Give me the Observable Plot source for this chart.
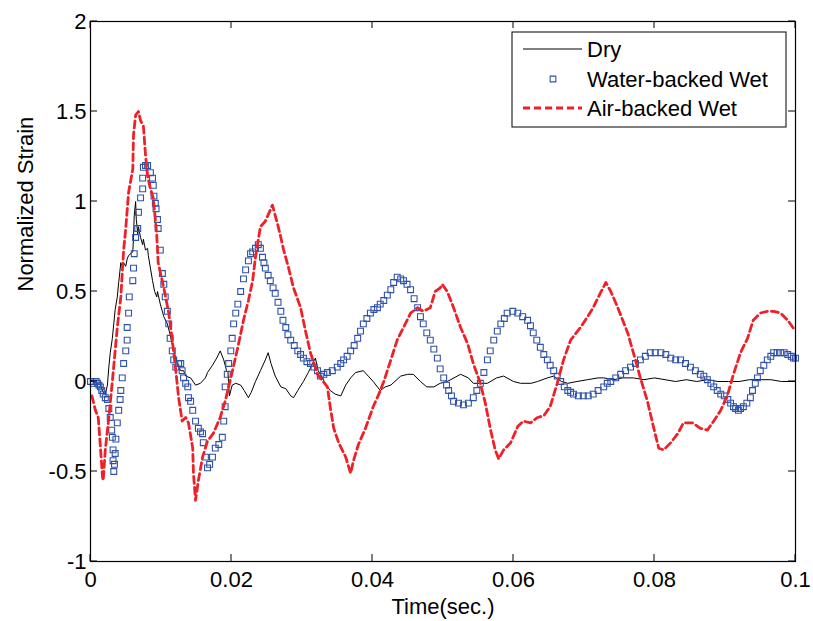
<!DOCTYPE html>
<html>
<head>
<meta charset="utf-8">
<script src="https://cdn.jsdelivr.net/npm/d3@7"></script>
<script src="https://cdn.jsdelivr.net/npm/@observablehq/plot@0.6"></script>
<style>
  html, body { margin: 0; padding: 0; background: white; }
  svg { display: block; }
</style>
</head>
<body>
<div id="chart"></div>
<script>
// ---- Data (time in seconds, normalized strain) ----
const seriesNames = ["Dry", "Water-backed Wet", "Air-backed Wet"];
const xTicks = [0, 0.02, 0.04, 0.06, 0.08, 0.1];
const yTicks = [-1, -0.5, 0, 0.5, 1, 1.5, 2];
const xLabel = "Time(sec.)";
const yLabel = "Normalized Strain";

const dry = [
  [0,0],[0.0003,0],[0.001,-0.01],[0.0014,-0.02],[0.0018,-0.06],[0.0021,-0.07],[0.0024,-0.02],[0.0026,0.08],
  [0.0028,0.16],[0.0031,0.24],[0.0033,0.32],[0.0035,0.4],[0.0038,0.47],[0.004,0.55],[0.0043,0.66],[0.0045,0.64],
  [0.0047,0.66],[0.005,0.64],[0.0052,0.68],[0.0054,0.7],[0.006,0.72],[0.0061,0.8],[0.0062,0.92],[0.0064,1.0],
  [0.0065,0.9],[0.0067,0.82],[0.0068,0.86],[0.0071,0.8],[0.0074,0.76],[0.0075,0.79],[0.0078,0.73],[0.0081,0.74],
  [0.0082,0.7],[0.0085,0.63],[0.0088,0.56],[0.0091,0.5],[0.0094,0.47],[0.0095,0.5],[0.0099,0.43],[0.0104,0.36],
  [0.0109,0.32],[0.0113,0.26],[0.0118,0.17],[0.0123,0.1],[0.0128,0.06],[0.0132,0.06],[0.0135,0.03],[0.0142,0.02],
  [0.0149,-0.02],[0.0156,-0.01],[0.0163,0.02],[0.0166,0.05],[0.0173,0.09],[0.0179,0.13],[0.0184,0.17],[0.0189,0.12],
  [0.0193,0.06],[0.0195,0.05],[0.0197,-0.08],[0.0201,-0.02],[0.0206,-0.01],[0.0213,-0.02],[0.0218,-0.05],[0.0224,-0.09],
  [0.0228,-0.06],[0.0234,0],[0.0241,0.06],[0.0248,0.12],[0.0252,0.16],[0.0256,0.1],[0.0262,0.03],[0.027,-0.03],
  [0.0277,-0.04],[0.0284,-0.08],[0.0288,-0.09],[0.0294,-0.05],[0.0302,0],[0.0309,0.05],[0.0315,0.1],[0.0319,0.13],
  [0.0323,0.06],[0.0326,0.04],[0.0333,-0.01],[0.034,-0.05],[0.0347,-0.07],[0.0355,-0.08],[0.0362,-0.02],[0.0369,0.02],
  [0.0376,0.05],[0.0387,0.06],[0.0394,0.03],[0.0401,0],[0.0411,-0.05],[0.0418,-0.03],[0.0426,-0.02],[0.044,0.03],
  [0.045,0.04],[0.0458,0.04],[0.0468,0],[0.0477,-0.03],[0.0487,-0.03],[0.0496,-0.01],[0.0506,0],[0.0525,0.04],
  [0.0536,0.02],[0.0543,-0.01],[0.0553,-0.01],[0.0563,-0.01],[0.0576,0.02],[0.0586,0.03],[0.06,0],[0.061,-0.01],
  [0.0625,-0.01],[0.0634,0],[0.0648,0.02],[0.0657,0.03],[0.0668,0],[0.0677,-0.01],[0.069,0],[0.0705,0.01],
  [0.072,0.02],[0.0728,0.02],[0.0742,0.01],[0.0755,0.02],[0.077,0.02],[0.0785,0.01],[0.08,0.02],[0.0815,0.01],
  [0.083,0],[0.0845,0.01],[0.086,0],[0.0875,0.01],[0.089,0],[0.0905,0],[0.092,0],[0.0935,0.01],
  [0.095,0.01],[0.0965,0.01],[0.098,0],[0.1,0]
];

const water = [
  [0,0],[0.0004,-0.01],[0.0008,0],[0.001,-0.01],[0.0012,-0.02],[0.0014,-0.03],[0.0016,-0.05],[0.0018,-0.07],
  [0.0021,-0.09],[0.0024,-0.1],[0.0026,-0.15],[0.0028,-0.2],[0.003,-0.27],[0.0031,-0.31],[0.0032,-0.38],[0.0032,-0.44],
  [0.0033,-0.5],[0.0034,-0.46],[0.0035,-0.4],[0.0036,-0.32],[0.0038,-0.23],[0.004,-0.16],[0.0042,-0.1],[0.0043,-0.05],
  [0.0045,0.02],[0.0047,0.1],[0.005,0.17],[0.0052,0.23],[0.0052,0.3],[0.0054,0.38],[0.0055,0.47],[0.006,0.56],
  [0.0061,0.63],[0.0062,0.71],[0.0064,0.8],[0.0067,0.85],[0.0068,0.94],[0.0071,1.02],[0.0074,1.07],[0.0074,1.13],
  [0.0075,1.19],[0.0078,1.2],[0.0081,1.2],[0.0085,1.16],[0.0088,1.13],[0.0089,1.09],[0.009,1.03],[0.0092,0.99],
  [0.0093,0.96],[0.0095,0.9],[0.0096,0.85],[0.0099,0.73],[0.0102,0.6],[0.0104,0.54],[0.0106,0.47],[0.0109,0.39],
  [0.0111,0.32],[0.0113,0.24],[0.0116,0.17],[0.0118,0.12],[0.0121,0.08],[0.0125,0.1],[0.0128,0.1],[0.013,0.06],
  [0.0132,0.02],[0.0135,-0.01],[0.0138,-0.03],[0.0139,-0.09],[0.0142,-0.11],[0.0145,-0.16],[0.0149,-0.22],[0.0153,-0.26],
  [0.0156,-0.28],[0.0159,-0.29],[0.016,-0.34],[0.0163,-0.42],[0.0166,-0.48],[0.0169,-0.46],[0.0173,-0.42],[0.0177,-0.37],
  [0.0182,-0.35],[0.0187,-0.31],[0.0189,-0.22],[0.0191,-0.14],[0.0191,-0.03],[0.0194,0.04],[0.0196,0.1],[0.0199,0.17],
  [0.0201,0.24],[0.0203,0.32],[0.0206,0.38],[0.0209,0.43],[0.0213,0.5],[0.0217,0.57],[0.022,0.62],[0.0224,0.67],
  [0.0227,0.71],[0.023,0.72],[0.0234,0.74],[0.0238,0.76],[0.0241,0.74],[0.0244,0.69],[0.0246,0.66],[0.0248,0.63],
  [0.0252,0.59],[0.0255,0.56],[0.0259,0.52],[0.0262,0.49],[0.0266,0.44],[0.027,0.39],[0.0273,0.34],[0.0277,0.3],
  [0.028,0.26],[0.0284,0.23],[0.0289,0.2],[0.0294,0.17],[0.0298,0.15],[0.0302,0.13],[0.0307,0.11],[0.0312,0.1],
  [0.0317,0.08],[0.0322,0.06],[0.0326,0.03],[0.0331,0.04],[0.0336,0.05],[0.0343,0.06],[0.035,0.08],[0.0355,0.1],
  [0.0359,0.12],[0.0364,0.14],[0.0369,0.17],[0.0374,0.2],[0.0379,0.24],[0.0383,0.28],[0.0387,0.32],[0.0392,0.35],
  [0.0397,0.38],[0.0402,0.4],[0.0407,0.41],[0.0411,0.43],[0.0416,0.45],[0.0421,0.48],[0.0426,0.51],[0.043,0.55],
  [0.0435,0.58],[0.044,0.57],[0.0444,0.56],[0.0449,0.54],[0.0454,0.51],[0.0459,0.46],[0.0464,0.41],[0.0468,0.36],
  [0.0472,0.32],[0.0477,0.27],[0.0482,0.23],[0.0487,0.18],[0.0492,0.13],[0.0496,0.07],[0.0501,0.02],[0.0505,-0.02],
  [0.0508,-0.05],[0.0512,-0.08],[0.0515,-0.11],[0.0522,-0.12],[0.0529,-0.13],[0.0536,-0.12],[0.0543,-0.09],[0.0548,-0.05],
  [0.0553,-0.01],[0.0558,0.05],[0.0563,0.12],[0.0567,0.17],[0.0572,0.23],[0.0577,0.28],[0.0582,0.32],[0.0587,0.35],
  [0.0591,0.38],[0.0599,0.39],[0.0606,0.38],[0.0613,0.36],[0.062,0.34],[0.0624,0.31],[0.0628,0.27],[0.0633,0.23],
  [0.0638,0.19],[0.0643,0.15],[0.0648,0.12],[0.0652,0.09],[0.0657,0.06],[0.0662,0.03],[0.0667,0],[0.0672,-0.03],
  [0.0677,-0.05],[0.0681,-0.06],[0.0685,-0.07],[0.0692,-0.08],[0.0699,-0.08],[0.0706,-0.08],[0.0713,-0.07],[0.072,-0.05],
  [0.0728,-0.03],[0.0733,-0.01],[0.0738,0],[0.0745,0.02],[0.0752,0.04],[0.0759,0.06],[0.0766,0.08],[0.0773,0.1],
  [0.078,0.12],[0.0787,0.14],[0.0794,0.16],[0.0801,0.16],[0.0809,0.16],[0.0816,0.15],[0.0823,0.13],[0.083,0.12],
  [0.0837,0.12],[0.0844,0.1],[0.0851,0.08],[0.0858,0.06],[0.0865,0.04],[0.087,0.03],[0.0875,0.01],[0.088,-0.01],
  [0.0884,-0.03],[0.0889,-0.05],[0.0894,-0.07],[0.0899,-0.08],[0.0904,-0.1],[0.0908,-0.12],[0.0912,-0.14],[0.0915,-0.15],
  [0.0919,-0.16],[0.0922,-0.15],[0.0926,-0.14],[0.0931,-0.12],[0.0936,-0.09],[0.0939,-0.05],[0.0943,-0.01],[0.0946,0.02],
  [0.095,0.06],[0.0955,0.09],[0.096,0.12],[0.0965,0.14],[0.0969,0.16],[0.0974,0.16],[0.0979,0.16],[0.0984,0.16],
  [0.0989,0.15],[0.0994,0.14],[0.0997,0.13],[0.1,0.13]
];

const air = [
  [0.0002,-0.08],[0.0007,-0.16],[0.0011,-0.2],[0.0014,-0.36],[0.0017,-0.53],[0.0018,-0.55],[0.0021,-0.38],[0.0026,-0.2],
  [0.0031,0],[0.0038,0.3],[0.0043,0.47],[0.0047,0.73],[0.005,0.85],[0.0054,1.05],[0.006,1.18],[0.0061,1.37],
  [0.0064,1.48],[0.0068,1.5],[0.0071,1.45],[0.0075,1.42],[0.0078,1.26],[0.0081,1.14],[0.0085,1.07],[0.0089,1.02],
  [0.0092,0.9],[0.0094,0.81],[0.0096,0.66],[0.0104,0.52],[0.0111,0.38],[0.0116,0.23],[0.0121,0.06],[0.0125,-0.09],
  [0.013,-0.22],[0.0135,-0.2],[0.0139,-0.23],[0.0145,-0.37],[0.0146,-0.51],[0.0149,-0.66],[0.0153,-0.55],[0.0159,-0.42],
  [0.0166,-0.33],[0.0174,-0.29],[0.0184,-0.2],[0.0191,-0.11],[0.0199,0.02],[0.0209,0.19],[0.0217,0.34],[0.0224,0.45],
  [0.023,0.56],[0.0234,0.69],[0.0241,0.86],[0.0248,0.89],[0.0258,0.98],[0.0265,0.88],[0.027,0.8],[0.0274,0.73],
  [0.0281,0.63],[0.0288,0.52],[0.0298,0.41],[0.0305,0.28],[0.0312,0.16],[0.0322,0.04],[0.0336,-0.03],[0.034,-0.14],
  [0.0345,-0.26],[0.0352,-0.34],[0.0362,-0.42],[0.0369,-0.51],[0.0373,-0.44],[0.038,-0.35],[0.039,-0.26],[0.0401,-0.14],
  [0.0409,-0.07],[0.0416,0],[0.0426,0.12],[0.0435,0.23],[0.0444,0.3],[0.0454,0.38],[0.0464,0.41],[0.0472,0.39],
  [0.0482,0.41],[0.0489,0.5],[0.0496,0.52],[0.0499,0.54],[0.0506,0.5],[0.0515,0.41],[0.0525,0.3],[0.0535,0.21],
  [0.0543,0.1],[0.0553,-0.01],[0.056,-0.12],[0.0567,-0.26],[0.0574,-0.38],[0.0579,-0.43],[0.0586,-0.38],[0.0596,-0.34],
  [0.0606,-0.25],[0.0614,-0.22],[0.0624,-0.23],[0.0634,-0.2],[0.0643,-0.19],[0.0652,-0.14],[0.0662,-0.01],[0.0671,0.12],
  [0.0681,0.23],[0.0695,0.3],[0.0705,0.36],[0.0713,0.41],[0.0723,0.49],[0.0731,0.55],[0.0738,0.5],[0.0748,0.41],
  [0.0762,0.27],[0.077,0.16],[0.078,0.02],[0.079,-0.11],[0.0799,-0.26],[0.0806,-0.37],[0.0813,-0.38],[0.0823,-0.34],
  [0.0833,-0.29],[0.0841,-0.23],[0.0854,-0.23],[0.0865,-0.26],[0.0875,-0.27],[0.0884,-0.22],[0.0894,-0.16],[0.0904,-0.07],
  [0.0912,0.04],[0.0922,0.16],[0.0932,0.24],[0.094,0.34],[0.095,0.38],[0.096,0.39],[0.0969,0.39],[0.0979,0.38],
  [0.0989,0.34],[0.1,0.28]
];

// ---- Styling ----
const RED = "#ee2028";
const BLUE = "#2f52a8";
const FONT = "Arial, 'Liberation Sans', sans-serif";

const chart = Plot.plot({
  width: 813,
  height: 621,
  marginLeft: 90,
  marginRight: 18,
  marginTop: 21,
  marginBottom: 60,
  style: { fontFamily: FONT, fontSize: "22px", background: "white", color: "black" },
  x: { domain: [0, 0.1] },
  y: { domain: [-1, 2] },
  marks: [
    Plot.line(dry, { x: d => d[0], y: d => d[1], stroke: "black", strokeWidth: 1 }),
    Plot.dot(water, { x: d => d[0], y: d => d[1], symbol: "square", r: 3.3, stroke: BLUE, fill: "none", strokeWidth: 1.1 }),
    Plot.line(air, { x: d => d[0], y: d => d[1], stroke: RED, strokeWidth: 2.8, strokeDasharray: "7,4" }),
    Plot.frame({ stroke: "black", strokeWidth: 1.2 }),
    Plot.axisX({ ticks: xTicks, tickSize: 0, tickPadding: 10, tickFormat: d => String(d), label: null, fontSize: 22 }),
    Plot.axisY({ ticks: yTicks, tickSize: 0, tickPadding: 4, tickFormat: d => String(d), label: null, fontSize: 22 }),
    Plot.text([xLabel], { text: d => d, frameAnchor: "bottom", dy: 45, fontSize: 22, lineAnchor: "middle" }),
    Plot.text([yLabel], { text: d => d, frameAnchor: "left", dx: -65, rotate: -90, fontSize: 22, lineAnchor: "middle" })
  ]
});

document.getElementById("chart").appendChild(chart);

const svg = d3.select(chart);
const xs = chart.scale("x"), ys = chart.scale("y");
const TICK = 7;

// ---- Inward ticks on all four sides (positions from Plot's scales) ----
const tg = svg.append("g").attr("stroke", "black").attr("stroke-width", 1);
const [xl, xr] = xs.range, [yb, yt] = ys.range;
xTicks.forEach(v => {
  const px = xs.apply(v);
  tg.append("line").attr("x1", px).attr("x2", px).attr("y1", yb).attr("y2", yb - TICK);
  tg.append("line").attr("x1", px).attr("x2", px).attr("y1", yt).attr("y2", yt + TICK);
});
yTicks.forEach(v => {
  const py = ys.apply(v);
  tg.append("line").attr("y1", py).attr("y2", py).attr("x1", xl).attr("x2", xl + TICK);
  tg.append("line").attr("y1", py).attr("y2", py).attr("x1", xr).attr("x2", xr - TICK);
});

// ---- Legend (inside the plot, top right) ----
const lg = svg.append("g").attr("font-family", FONT).attr("font-size", 22).attr("text-anchor", "start");
lg.append("rect").attr("x", 512).attr("y", 32).attr("width", 274).attr("height", 95)
  .attr("fill", "white").attr("stroke", "black").attr("stroke-width", 1);
lg.append("line").attr("x1", 523).attr("x2", 582).attr("y1", 49).attr("y2", 49)
  .attr("stroke", "black").attr("stroke-width", 1);
lg.append("path").attr("d", d3.symbol(d3.symbolSquare, 32)()).attr("transform", "translate(553,79)")
  .attr("fill", "none").attr("stroke", BLUE).attr("stroke-width", 1.1);
lg.append("line").attr("x1", 523).attr("x2", 582).attr("y1", 108).attr("y2", 108)
  .attr("stroke", RED).attr("stroke-width", 2.8).attr("stroke-dasharray", "7,4");
const baselines = [57, 87, 116];
seriesNames.forEach((name, i) => {
  lg.append("text").attr("x", 587).attr("y", baselines[i]).attr("fill", "black")
    .attr("text-anchor", "start").text(name);
});
</script>
</body>
</html>
